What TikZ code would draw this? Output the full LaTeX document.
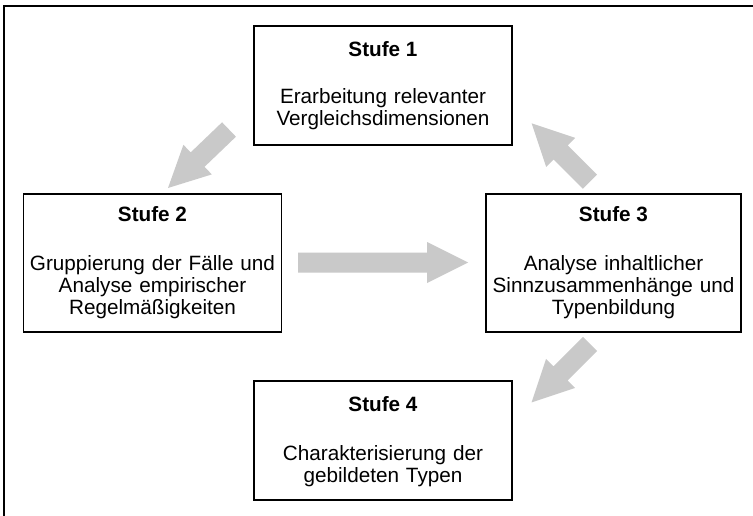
\documentclass[tikz,border=0pt]{standalone}
\usepackage{fontspec}
\setmainfont{Liberation Sans}
\definecolor{arrowgray}{RGB}{201,201,201}
\newcommand\blockarrow[3]{%
  \begin{scope}[shift={(#1)}, rotate=#2]
    \fill[arrowgray] (0,-10) -- ({#3-41},-10) -- ({#3-41},-20.5) -- (#3,0)
      -- ({#3-41},20.5) -- ({#3-41},10) -- (0,10) -- cycle;
  \end{scope}}
\begin{document}
\begin{tikzpicture}[x=1pt,y=-1pt,
  stagebox/.style={draw=black, line width=1.8pt, minimum width=258pt, inner sep=0pt},
  titletext/.style={font=\fontsize{20.7}{22}\selectfont\bfseries, anchor=base, inner sep=0pt},
  bodytext/.style={font=\fontsize{20.7}{22}\selectfont, anchor=base, inner sep=0pt, align=center, text width=250pt}]
\useasboundingbox (0,0) rectangle (753,516);
\fill[white] (0,0) rectangle (753,516);
% outer frame
\coordinate (fbl) at (4,516);
\coordinate (ftl) at (4,6);
\coordinate (ftr) at (753,6);
\draw[line width=1.1pt] (fbl) -- (ftl) -- (ftr);
% boxes
\node[stagebox, minimum height=119pt] (b1) at (383,85.5) {};
\node[stagebox, minimum height=138pt] (b2) at (152.5,263) {};
\node[stagebox, minimum height=138pt, minimum width=255pt] (b3) at (613.5,263) {};
\node[stagebox, minimum height=119pt] (b4) at (383,440.5) {};
% texts
\node[titletext] (t1) at (383,57) {Stufe 1};
\node[bodytext] (d1) at (383,104) {Erarbeitung relevanter\\Vergleichsdimensionen};
\node[titletext] (t2) at (152.5,222) {Stufe 2};
\node[bodytext] (d2) at (152.5,270.5) {Gruppierung der Fälle und\\Analyse empirischer\\Regelmäßigkeiten};
\node[titletext] (t3) at (613.5,222) {Stufe 3};
\node[bodytext] (d3) at (613.5,270.5) {Analyse inhaltlicher\\Sinnzusammenhänge und\\Typenbildung};
\node[titletext] (t4) at (383,411.5) {Stufe 4};
\node[bodytext] (d4) at (383,460) {Charakterisierung der\\gebildeten Typen};
% arrows
\coordinate (a12) at (229,129.5);
\coordinate (a23) at (298,262.5);
\coordinate (a31) at (590,181.7);
\coordinate (a34) at (590,344);
\blockarrow{a12}{223.8}{84.5}
\blockarrow{a23}{0}{170}
\blockarrow{a31}{135}{82.5}
\blockarrow{a34}{225}{82.7}
\end{tikzpicture}
\end{document}
